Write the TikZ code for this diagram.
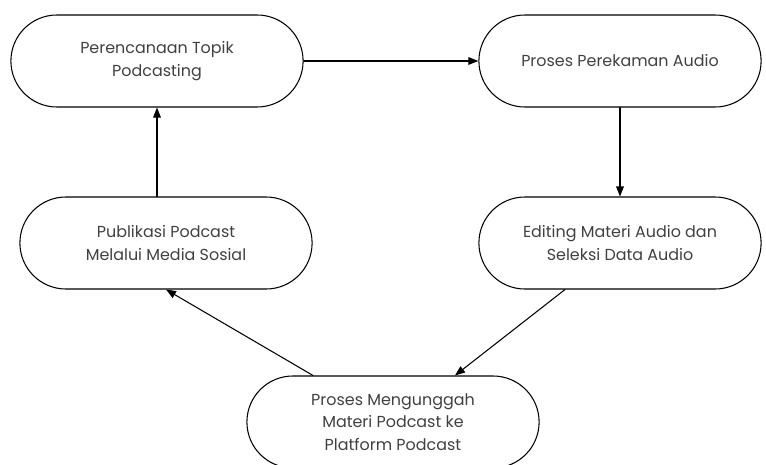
\documentclass[tikz,border=0pt]{standalone}
\usepackage{fontspec}
\setmainfont{Poppins}
\usepackage{tikz}
\usetikzlibrary{arrows.meta,shapes.misc,calc}

\tikzset{
  stepnode/.style={draw, rounded rectangle, line width=0.9pt, minimum width=9cm, minimum height=2.76cm,
    align=center, text=black!75, font=\fontsize{13.6}{19}\selectfont},
  flow/.style={->, line width=0.9pt}
}

\begin{document}
\begin{tikzpicture}[line cap=round,line join=round,>={Triangle[length=3mm,width=2.3mm]},x=0.03cm,y=0.03cm]
\useasboundingbox (0,0) rectangle (766,464);
\node[stepnode] (topik) at (157,403) {Perencanaan Topik\\Podcasting};
\node[stepnode, minimum width=8.7cm] (rekam) at (620,403) {Proses Perekaman Audio};
\node[stepnode, minimum width=8.7cm] (edit) at (620,221) {Editing Materi Audio dan\\Seleksi Data Audio};
\node[stepnode] (publikasi) at (166,221) {Publikasi Podcast\\Melalui Media Sosial};
\node[stepnode] (unggah) at (393,42) {Proses Mengunggah\\Materi Podcast ke\\Platform Podcast};
\draw [flow] (topik.east) -- (rekam.west);
\draw [flow] (rekam.south) -- (edit.north);
\draw [flow] ($(edit.south)+(-55,0)$) -- ($(unggah.north)+(62,0)$);
\draw [flow] ($(unggah.north)+(-80,0)$) -- (publikasi.south);
\draw [flow] (publikasi.north -| topik.south) -- (topik.south);
\end{tikzpicture}
\end{document}
